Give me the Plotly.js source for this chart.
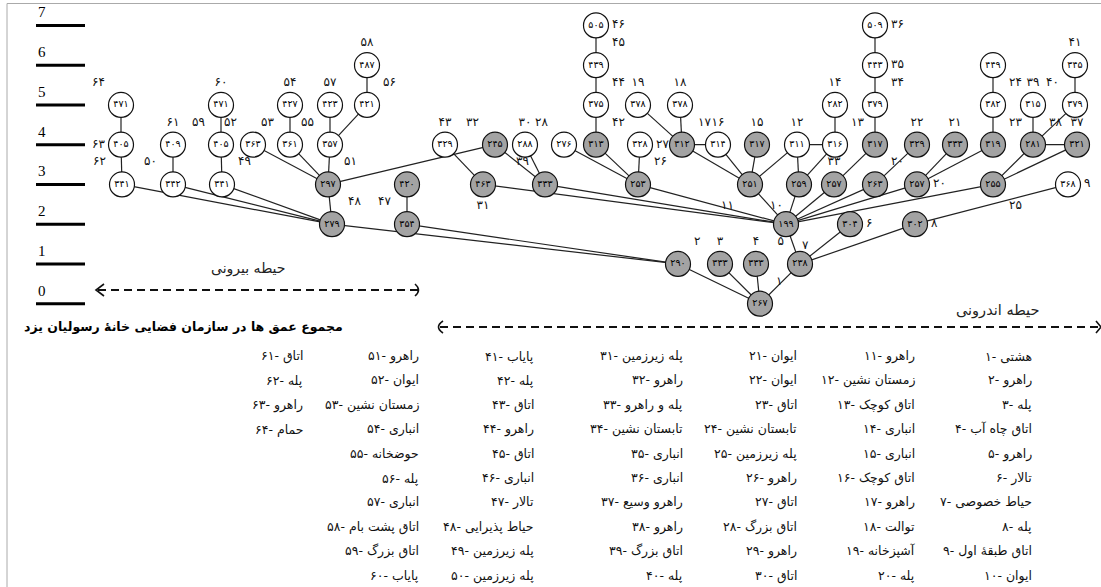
<!DOCTYPE html>
<html><head><meta charset="utf-8">
<script src="https://cdn.plot.ly/plotly-3.0.1.min.js"></script>
<style>html,body{margin:0;padding:0;background:#fff}#chart{width:1101px;height:587px}</style>
</head><body><div id="chart"></div>
<script>
// ---------- data ----------
const levels = [0, 1, 2, 3, 4, 5, 6, 7];

const nodeLabel = [1,2,3,4,5,7,6,8,9, 48,47,null, 62,63,64, 50,61, 49,59,60,
  51,52,53,54,55,57,56,58, 32,39,30,31,43, 26,28,42,44,45,46,27,
  11,17,19,18,16,15, 10,12,13,14,33, null,34,35,36,
  20,22,20,21,23,24,null,25, 38,39,37,40,41];

const nodeValue = [267,290,333,333,238,199,304,302,368, 279,354,420, 341,405,471, 342,409, 341,405,471,
  297,363,361,427,357,423,421,487, 245,333,288,463,329, 253,276,313,375,439,505,328,
  251,312,378,378,314,317, 259,311,316,282,257, 317,379,443,509,
  263,329,257,333,319,382,449,255, 281,315,321,379,345];

const nodeLevel = [0,1,1,1,1,2,2,2,3, 2,2,3, 3,4,5, 3,4, 3,4,5,
  3,4,4,5,4,5,5,6, 4,3,4,3,4, 3,4,4,5,6,7,4,
  3,4,5,5,4,4, 3,4,4,5,3, 4,5,6,7,
  3,4,3,4,4,5,6,3, 4,5,4,5,6];

// horizontal order of the nodes across the diagram
const nodeX = [760,678,720,756,800,786,850,915,1068, 332,407,407, 122,121,121, 173,173, 222,221,221,
  328,253,290,290,330,330,367,367, 495,545,525,483,445, 638,564,596,596,596,596,640,
  750,682,638,680,718,757, 799,797,835,835,834, 875,875,875,875,
  875,917,917,955,993,993,993,993, 1033,1033,1077,1075,1075];

// 1 = shaded node, 0 = open node
const nodeShaded = [1,1,1,1,1,1,1,1,0, 1,1,1, 0,0,0, 0,0, 0,0,0,
  1,0,0,0,0,0,0,0, 1,1,0,1,0, 1,0,1,0,0,0,0,
  1,1,0,0,0,1, 1,0,0,0,1, 1,0,0,0,
  1,1,1,1,1,0,0,1, 1,0,1,0,0];

const edges = [[0,1],[0,2],[0,3],[0,4],[4,5],[4,6],[4,7],[7,8],[1,9],[1,10],[10,11],
  [9,12],[9,15],[9,17],[9,20],[12,13],[13,14],[15,16],[17,18],[18,19],
  [20,21],[20,22],[20,24],[20,28],[22,23],[24,25],[24,26],[26,27],
  [28,29],[30,29],[32,31],[29,5],[31,5],[33,5],[34,33],[35,33],[39,33],[35,36],[36,37],[37,38],
  [40,5],[40,41],[40,44],[40,45],[40,47],[41,42],[41,43],[41,44],
  [46,5],[46,47],[46,48],[47,48],[48,49],[50,5],[50,51],[51,52],[52,53],[53,54],
  [55,5],[55,56],[57,5],[57,58],[57,59],[59,60],[60,61],
  [62,5],[62,63],[62,65],[63,65],[63,64],[63,66],[66,67]];

const spaceNames = ["هشتی","راهرو","پله","اتاق چاه آب","راهرو","تالار","حیاط خصوصی","پله","اتاق طبقۀ اول","ایوان",
  "راهرو","زمستان نشین","اتاق کوچک","انباری","انباری","اتاق کوچک","راهرو","توالت","آشپزخانه","پله",
  "ایوان","ایوان","اتاق","تابستان نشین","پله زیرزمین","راهرو","اتاق","اتاق بزرگ","راهرو","اتاق",
  "پله زیرزمین","راهرو","پله و راهرو","تابستان نشین","انباری","انباری","راهرو وسیع","راهرو","اتاق بزرگ","پله",
  "پایاب","پله","اتاق","راهرو","اتاق","انباری","تالار","حیاط پذیرایی","پله زیرزمین","پله زیرزمین",
  "راهرو","ایوان","زمستان نشین","انباری","حوضخانه","پله","انباری","اتاق پشت بام","اتاق بزرگ","پایاب",
  "اتاق","پله","راهرو","حمام"];

const titleText = "مجموع عمق ها در سازمان فضایی خانۀ رسولیان یزد";
const outerZone = "حیطه بیرونی";
const innerZone = "حیطه اندرونی";

// ---------- styling / layout ----------
const W = 1101, H = 587;
const FA = "DejaVu Sans";
const labelPos = ["top right","top right","top center","top center","top left","bottom right","middle right","middle right","middle right",
  "top right","top left","top center", "top left","middle left","top left", "top left","top center", "top right","top left","top center",
  "top right","top left","top left","top center","top left","top center","top right","top center",
  "top left","top left","top center","bottom center","top center",
  "top right","top left","top right","top right","top right","middle right","middle right",
  "bottom left","top right","top center","top center","top center","top center",
  "bottom left","top center","top right","top center","top center",
  "top center","top right","middle right","middle right",
  "top right","top center","middle right","top center","top right","top right","top center","bottom right",
  "top right","top center","top center","top left","top center"];

function fa(n){ return String(n).replace(/[0-9]/g, d => "۰۱۲۳۴۵۶۷۸۹"[+d]); }
// level axis: level 0 at 303.7px from top, 39.76px per level
const y0px = 303.7, perLevel = 39.76;
const yRange = [(y0px - H) / perLevel, y0px / perLevel];
function pyPaper(py){ return 1 - py / H; }

// edges
const ex = [], ey = [];
edges.forEach(([a,b]) => { ex.push(nodeX[a], nodeX[b], null); ey.push(nodeLevel[a], nodeLevel[b], null); });

// level bars
const lx = [], ly = [];
levels.forEach(l => { lx.push(36, 85, null); ly.push(l, l, null); });

const traces = [
  {type:'scatter', mode:'lines', x:lx, y:ly, line:{color:'#000', width:3}, hoverinfo:'skip'},
  {type:'scatter', mode:'lines', x:ex, y:ey, line:{color:'#222', width:1.2}, hoverinfo:'skip'},
  {type:'scatter', mode:'markers+text', x:nodeX, y:nodeLevel,
   marker:{size:25, color:nodeShaded.map(s => s ? '#a3a3a3' : '#ffffff'), line:{color:'#111', width:1.2}},
   text:nodeValue.map(fa), textposition:'middle center', textfont:{family:FA, size:9.5, color:'#000'}, hoverinfo:'skip'},
  {type:'scatter', mode:'markers+text', x:nodeX, y:nodeLevel,
   marker:{size:24, color:'rgba(0,0,0,0)'},
   text:nodeLabel.map(v => v == null ? '' : fa(v)), textposition:labelPos,
   textfont:{family:FA, size:12, color:'#111'}, hoverinfo:'skip'}
];

const annotations = [];
levels.forEach(l => annotations.push({x:36, y:l, xref:'x', yref:'y', yshift:13, xanchor:'left', yanchor:'middle',
  text:String(l), showarrow:false, font:{family:'Liberation Serif', size:15, color:'#000'}}));
annotations.push({x:248, y:pyPaper(268), xref:'x', yref:'paper', text:outerZone, showarrow:false,
  font:{family:FA, size:14, color:'#222'}, xanchor:'center', yanchor:'middle'});
annotations.push({x:997, y:pyPaper(310), xref:'x', yref:'paper', text:innerZone, showarrow:false,
  font:{family:FA, size:14.5, color:'#222'}, xanchor:'center', yanchor:'middle'});
annotations.push({x:345, y:pyPaper(326), xref:'x', yref:'paper', text:'<b>'+titleText+'</b>', showarrow:false,
  font:{family:FA, size:12.5, color:'#000'}, xanchor:'right', yanchor:'middle'});

const colRight = [1034, 917, 799, 685, 536, 421, 305];
spaceNames.forEach((name, i) => {
  const col = Math.floor(i / 10), row = i % 10;
  annotations.push({x:colRight[col], y:pyPaper(356 + row * 24.4), xref:'x', yref:'paper',
    text: fa(i + 1) + '- ' + name, showarrow:false, xanchor:'right', yanchor:'middle',
    font:{family:FA, size:12.5, color:'#111'}});
});

function P(x, py){ return x + ',' + pyPaper(py); }
const shapes = [
  {type:'line', xref:'x', yref:'paper', x0:7, x1:W, y0:pyPaper(3.5), y1:pyPaper(3.5), line:{color:'#aaa', width:1}},
  {type:'line', xref:'x', yref:'paper', x0:7, x1:7, y0:pyPaper(3.5), y1:0, line:{color:'#aaa', width:1}},
  {type:'line', xref:'x', yref:'paper', x0:98, x1:418, y0:pyPaper(290), y1:pyPaper(290), line:{color:'#111', width:2, dash:'8px,5px'}},
  {type:'path', xref:'x', yref:'paper', path:'M'+P(104,284)+' L'+P(96,290)+' L'+P(104,296), line:{color:'#111', width:1.6}},
  {type:'path', xref:'x', yref:'paper', path:'M'+P(415,284)+' Q'+P(422,290)+' '+P(415,296), line:{color:'#111', width:1.6}},
  {type:'line', xref:'x', yref:'paper', x0:440, x1:W, y0:pyPaper(327), y1:pyPaper(327), line:{color:'#111', width:2, dash:'8px,5px'}},
  {type:'path', xref:'x', yref:'paper', path:'M'+P(443,321)+' Q'+P(434,327)+' '+P(443,333), line:{color:'#111', width:1.6}},
  {type:'path', xref:'x', yref:'paper', path:'M'+P(1096,321)+' L'+P(1101,327)+' L'+P(1096,333), line:{color:'#111', width:1.6}}
];

const layout = {
  width:W, height:H, margin:{l:0, r:0, t:0, b:0}, showlegend:false,
  paper_bgcolor:'#fff', plot_bgcolor:'#fff',
  xaxis:{range:[0, W], visible:false, fixedrange:true},
  yaxis:{range:yRange, visible:false, fixedrange:true},
  annotations, shapes
};
Plotly.newPlot('chart', traces, layout, {staticPlot:true, displayModeBar:false});
</script></body></html>
